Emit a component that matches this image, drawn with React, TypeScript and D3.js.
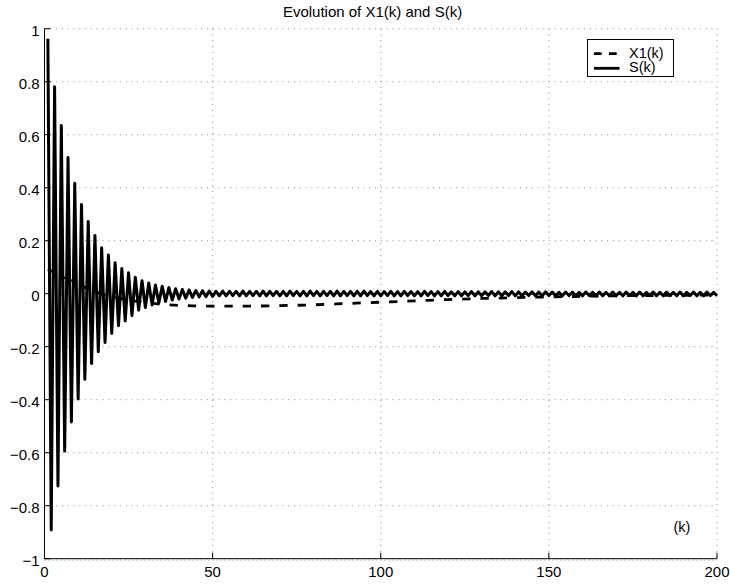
import React from "react";
import * as d3 from "d3";

const TITLE = "Evolution of X1(k) and S(k)";
const X_LABEL = "(k)";
const X_TICKS = [0, 50, 100, 150, 200];
const Y_TICKS = [-1, -0.8, -0.6, -0.4, -0.2, 0, 0.2, 0.4, 0.6, 0.8, 1];
const LEGEND_LABELS = ["X1(k)", "S(k)"];

const X1_K = [1, 3, 5, 8, 10, 13, 15, 17, 20, 25, 30, 35, 40, 45, 50, 60, 70, 80, 90, 100, 110, 120, 130, 140, 150, 160, 170, 180, 190, 200];
const X1_V = [0.092, 0.08, 0.068, 0.048, 0.036, 0.018, 0.008, -0.001, -0.011, -0.024, -0.033, -0.04, -0.044, -0.046, -0.047, -0.047, -0.045, -0.042, -0.037, -0.032, -0.027, -0.022, -0.018, -0.015, -0.012, -0.01, -0.008, -0.007, -0.006, -0.005];

// S(k), k = 1..200
const S_V = [
  0.962, -0.892, 0.781, -0.726, 0.635, -0.594, 0.514, -0.484, 0.417, -0.397,
  0.337, -0.323, 0.272, -0.263, 0.22, -0.219, 0.173, -0.184, 0.146, -0.15,
  0.117, -0.121, 0.095, -0.103, 0.079, -0.083, 0.062, -0.062, 0.049, -0.052,
  0.04, -0.043, 0.033, -0.035, 0.028, -0.029, 0.023, -0.024, 0.019, -0.02,
  0.016, -0.017, 0.014, -0.014, 0.012, -0.012, 0.011, -0.011, 0.01, -0.01,
  0.009, -0.008, 0.01, -0.008, 0.009, -0.007, 0.009, -0.008, 0.01, -0.008,
  0.009, -0.007, 0.009, -0.008, 0.01, -0.008, 0.009, -0.007, 0.009, -0.008,
  0.009, -0.008, 0.01, -0.007, 0.009, -0.008, 0.009, -0.008, 0.01, -0.007,
  0.009, -0.008, 0.009, -0.007, 0.009, -0.008, 0.01, -0.008, 0.009, -0.007,
  0.009, -0.008, 0.009, -0.008, 0.01, -0.007, 0.008, -0.008, 0.009, -0.008,
  0.008, -0.007, 0.009, -0.008, 0.008, -0.008, 0.009, -0.007, 0.008, -0.008,
  0.008, -0.008, 0.009, -0.007, 0.008, -0.008, 0.008, -0.008, 0.009, -0.007,
  0.007, -0.008, 0.008, -0.008, 0.007, -0.007, 0.008, -0.008, 0.007, -0.008,
  0.007, -0.007, 0.008, -0.008, 0.007, -0.008, 0.007, -0.007, 0.008, -0.008,
  0.007, -0.008, 0.006, -0.007, 0.007, -0.008, 0.006, -0.008, 0.007, -0.007,
  0.006, -0.008, 0.005, -0.008, 0.006, -0.007, 0.006, -0.008, 0.005, -0.008,
  0.006, -0.007, 0.005, -0.008, 0.006, -0.008, 0.005, -0.007, 0.006, -0.008,
  0.005, -0.008, 0.006, -0.007, 0.005, -0.008, 0.006, -0.008, 0.005, -0.007,
  0.006, -0.008, 0.005, -0.008, 0.006, -0.007, 0.005, -0.008, 0.006, -0.008,
  0.005, -0.007, 0.006, -0.008, 0.005, -0.008, 0.006, -0.007, 0.005, -0.008,
];

const W = 730;
const H = 586;
const LEFT = 44.5;
const RIGHT = 717;
const TOP = 28.7;
const BOTTOM = 558.7;
const FONT = "'Liberation Sans', Arial, Helvetica, sans-serif";

function fmt(v: number) {
  if (v === 0) return "0";
  const s = Math.abs(v) === 1 ? "1" : String(Math.abs(v));
  return (v < 0 ? "\u2212" : "") + s;
}

export default function App() {
  const x = d3.scaleLinear().domain([0, 200]).range([LEFT, RIGHT]);
  const y = d3.scaleLinear().domain([-1, 1]).range([BOTTOM, TOP]);

  const sLine = d3
    .line<number>()
    .x((_, i) => x(i + 1))
    .y((d) => y(d));
  const xLine = d3
    .line<number>()
    .x((_, i) => x(X1_K[i]))
    .y((d) => y(d))
    .curve(d3.curveMonotoneX);

  const gridStyle = { stroke: "#888", strokeWidth: 1, strokeDasharray: "1,4.8" };

  return (
    <svg
      width={W}
      height={H}
      style={{ position: "absolute", left: 0, top: 0, background: "#fff" }}
      fontFamily={FONT}
    >
      <rect x={0} y={0} width={W} height={H} fill="#fff" />
      {/* grid */}
      {Y_TICKS.map((t) => (
        <line key={"gy" + t} x1={LEFT} x2={RIGHT} y1={y(t)} y2={y(t)} {...gridStyle} />
      ))}
      <line x1={LEFT} x2={RIGHT} y1={BOTTOM + 1.5} y2={BOTTOM + 1.5} stroke="#999" strokeWidth={1} strokeDasharray="1,3" />
      {X_TICKS.map((t) => (
        <line key={"gx" + t} x1={x(t)} x2={x(t)} y1={TOP} y2={BOTTOM} {...gridStyle} />
      ))}

      {/* data */}
      <path
        d={xLine(X1_V) || ""}
        fill="none"
        stroke="#000"
        strokeWidth={2.8}
        strokeDasharray="8.3,10"
      />
      <path
        d={sLine(S_V) || ""}
        fill="none"
        stroke="#000"
        strokeWidth={3}
        strokeLinejoin="round"
      />

      {/* axes */}
      <line x1={LEFT} x2={LEFT} y1={TOP} y2={BOTTOM} stroke="#000" strokeWidth={1} />
      <line x1={LEFT} x2={RIGHT} y1={BOTTOM} y2={BOTTOM} stroke="#000" strokeWidth={1} />
      {Y_TICKS.map((t) => (
        <g key={"ty" + t}>
          <line x1={LEFT} x2={LEFT + 6} y1={y(t)} y2={y(t)} stroke="#000" strokeWidth={1} />
          <text x={LEFT - 5} y={y(t) + 6.9} textAnchor="end" fontSize={15} fill="#000">
            {fmt(t)}
          </text>
        </g>
      ))}
      {X_TICKS.map((t) => (
        <g key={"tx" + t}>
          <line x1={x(t)} x2={x(t)} y1={BOTTOM} y2={BOTTOM - 6} stroke="#000" strokeWidth={1} />
          <text x={x(t)} y={BOTTOM + 18} textAnchor="middle" fontSize={15} fill="#000">
            {fmt(t)}
          </text>
        </g>
      ))}

      {/* labels */}
      <text x={372.5} y={17.3} textAnchor="middle" fontSize={15} fill="#000">
        {TITLE}
      </text>
      <text x={682} y={532} textAnchor="middle" fontSize={14.5} fill="#000">
        {X_LABEL}
      </text>

      {/* legend */}
      <rect x={587.5} y={39.5} width={86} height={37} fill="#fff" stroke="#000" strokeWidth={1} />
      <line x1={594} x2={619.5} y1={53.7} y2={53.7} stroke="#000" strokeWidth={2.8} strokeDasharray="7.7,7.3" />
      <line x1={594} x2={619.5} y1={68.3} y2={68.3} stroke="#000" strokeWidth={2.8} />
      <text x={629} y={57.8} fontSize={14.5} fill="#000">
        {LEGEND_LABELS[0]}
      </text>
      <text x={629} y={72.3} fontSize={14.5} fill="#000">
        {LEGEND_LABELS[1]}
      </text>
    </svg>
  );
}
